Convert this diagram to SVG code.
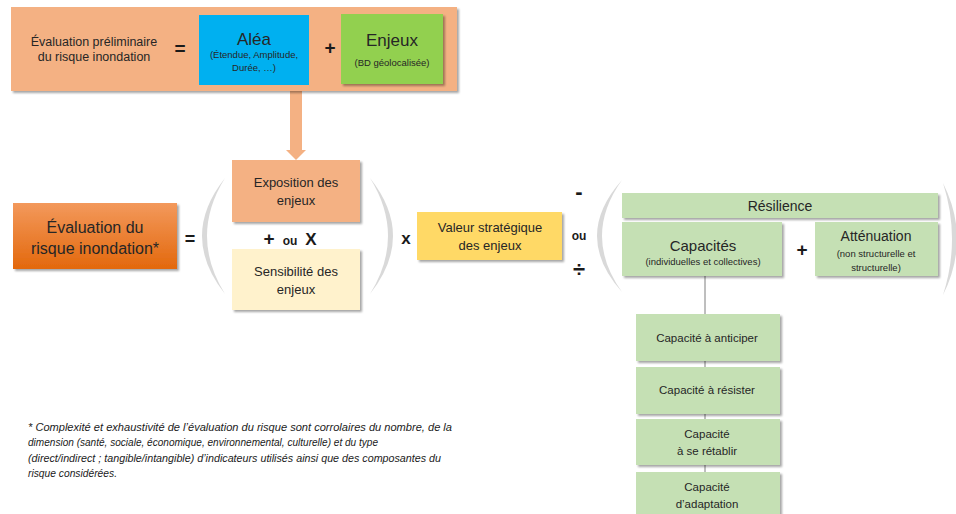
<svg xmlns="http://www.w3.org/2000/svg" width="956" height="514" viewBox="0 0 956 514">
<defs>
<filter id="sh" x="-10%" y="-10%" width="130%" height="140%">
<feDropShadow dx="2" dy="2" stdDeviation="1.3" flood-color="#000" flood-opacity="0.35"/>
</filter>
<linearGradient id="og" x1="0" y1="0" x2="0" y2="1">
<stop offset="0" stop-color="#F3995C"/>
<stop offset="1" stop-color="#E3680C"/>
</linearGradient>
<style>
text{font-family:"Liberation Sans","DejaVu Sans",sans-serif;fill:#262626;text-anchor:middle;dominant-baseline:central}
.op{font-weight:bold;fill:#1a1a1a}
.paren{fill:#D9D9D9}
.peach{fill:#F4B183}
.green{fill:#C5E0B4}
.foot{font-style:italic;font-size:10px;text-anchor:start;dominant-baseline:auto;fill:#1a1a1a}
</style>
</defs>
<rect width="956" height="514" fill="#fff"/>

<g id="connectors">
<line x1="705" y1="276" x2="705" y2="500" stroke="#7F7F7F" stroke-width="1"/>
<rect x="290" y="91" width="12" height="59" class="peach"/>
<polygon points="286,150 306,150 296,160" class="peach"/>
</g>

<g id="top-eval">
<rect x="11" y="7" width="446" height="84" class="peach" filter="url(#sh)"/>
<text x="94" y="42" font-size="12.5">Évaluation préliminaire</text>
<text x="94" y="57" font-size="12.5">du risque inondation</text>
<text x="180" y="48" font-size="19" class="op">=</text>
<text x="330" y="47" font-size="19" class="op">+</text>
</g>
<g id="alea">
<rect x="199" y="15" width="110" height="70" fill="#00B0F0"/>
<text x="254" y="39" font-size="17">Aléa</text>
<text x="254" y="54" font-size="9.5">(Étendue, Amplitude,</text>
<text x="254" y="67" font-size="9.5">Durée, …)</text>
</g>
<g id="enjeux">
<rect x="341" y="14" width="102" height="70" fill="#92D050" filter="url(#sh)"/>
<text x="392" y="40" font-size="17">Enjeux</text>
<text x="392" y="62" font-size="9.5">(BD géolocalisée)</text>
</g>

<g id="eval-risque">
<rect x="13" y="203" width="164" height="66" fill="url(#og)" filter="url(#sh)"/>
<text x="95" y="227" font-size="16">Évaluation du</text>
<text x="95" y="248" font-size="16">risque inondation*</text>
</g>
<text x="190" y="239" font-size="18" class="op">=</text>

<path class="paren" d="M225,178 Q179,236 225,294 Q189,236 225,178Z"/>
<path class="paren" d="M370,178 Q416,236 370,294 Q406,236 370,178Z"/>

<g id="exposition">
<rect x="232" y="160" width="128" height="62" fill="#F4B183" filter="url(#sh)"/>
<text x="296" y="182" font-size="13">Exposition des</text>
<text x="296" y="200" font-size="13">enjeux</text>
</g>
<text x="269" y="238" font-size="19" class="op">+</text>
<text x="290" y="241" font-size="12" class="op">ou</text>
<text x="311" y="239" font-size="17" class="op">X</text>
<g id="sensibilite">
<rect x="232" y="249" width="128" height="61" fill="#FFF2CC" filter="url(#sh)"/>
<text x="296" y="271" font-size="13">Sensibilité des</text>
<text x="296" y="289" font-size="13">enjeux</text>
</g>

<text x="406" y="238" font-size="17" class="op">x</text>
<g id="valeur">
<rect x="417" y="212" width="145" height="48" fill="#FFD966" filter="url(#sh)"/>
<text x="490" y="227" font-size="13">Valeur stratégique</text>
<text x="490" y="245" font-size="13">des enjeux</text>
</g>

<text x="579" y="191" font-size="22" class="op">-</text>
<text x="579" y="236" font-size="12" class="op">ou</text>
<text x="579" y="269" font-size="22" class="op">÷</text>

<path class="paren" d="M622,180 Q572,236 622,292 Q582,236 622,180Z"/>
<path class="paren" d="M943,183 Q971,239 943,295 Q961,239 943,183Z"/>

<g id="resilience">
<rect x="622" y="193" width="316" height="25" class="green" filter="url(#sh)"/>
<text x="780" y="206" font-size="14">Résilience</text>
</g>
<g id="capacites">
<rect x="622" y="222" width="160" height="54" class="green" filter="url(#sh)"/>
<text x="703" y="245" font-size="15">Capacités</text>
<text x="703" y="261" font-size="9.5">(individuelles et collectives)</text>
</g>
<text x="802" y="249" font-size="19" class="op">+</text>
<g id="attenuation">
<rect x="815" y="222" width="123" height="54" class="green" filter="url(#sh)"/>
<text x="876" y="236" font-size="14">Atténuation</text>
<text x="876" y="253" font-size="9.5">(non structurelle et</text>
<text x="876" y="267" font-size="9.5">structurelle)</text>
</g>

<g id="cap-anticiper">
<rect x="636" y="314" width="144" height="47" class="green" filter="url(#sh)"/>
<text x="707" y="338" font-size="11.5">Capacité à anticiper</text>
</g>
<g id="cap-resister">
<rect x="636" y="367" width="144" height="47" class="green" filter="url(#sh)"/>
<text x="707" y="390" font-size="11.5">Capacité à résister</text>
</g>
<g id="cap-retablir">
<rect x="636" y="419" width="144" height="46" class="green" filter="url(#sh)"/>
<text x="707" y="434" font-size="11.5">Capacité</text>
<text x="707" y="451" font-size="11.5">à se rétablir</text>
</g>
<g id="cap-adaptation">
<rect x="636" y="472" width="144" height="50" class="green" filter="url(#sh)"/>
<text x="707" y="487" font-size="11.5">Capacité</text>
<text x="707" y="504" font-size="11.5">d’adaptation</text>
</g>

<g id="footnote">
<text class="foot" x="28" y="431" textLength="424" lengthAdjust="spacingAndGlyphs">* Complexité et exhaustivité de l’évaluation du risque sont corrolaires du nombre, de la</text>
<text class="foot" x="28" y="446" textLength="350" lengthAdjust="spacingAndGlyphs">dimension (santé, sociale, économique, environnemental, culturelle) et du type</text>
<text class="foot" x="28" y="462" textLength="413" lengthAdjust="spacingAndGlyphs">(direct/indirect ; tangible/intangible) d’indicateurs utilisés ainsi que des composantes du</text>
<text class="foot" x="28" y="477" textLength="89" lengthAdjust="spacingAndGlyphs">risque considérées.</text>
</g>
</svg>
